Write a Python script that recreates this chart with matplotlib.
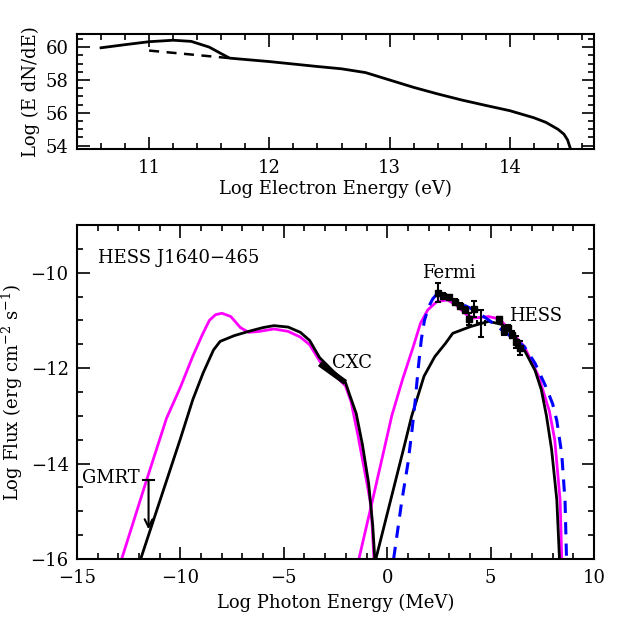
import numpy as np
import matplotlib
matplotlib.use("Agg")
import matplotlib.pyplot as plt
from matplotlib.ticker import MultipleLocator

plt.rcParams['font.family'] = ['DejaVu Serif']
plt.rcParams['mathtext.fontset'] = 'dejavuserif'
plt.rcParams['font.size'] = 13

# --- electron spectrum (top panel) ---
e_x = [10.6, 10.8, 11.0, 11.2, 11.35, 11.5, 11.6, 11.67, 12.0, 12.2, 12.4, 12.6, 12.8,
       13.0, 13.2, 13.4, 13.6, 13.8, 14.0, 14.2, 14.3, 14.4, 14.45, 14.48, 14.5]
e_y = [59.96, 60.15, 60.33, 60.42, 60.35, 60.0, 59.6, 59.33, 59.12, 58.97, 58.82, 58.68, 58.45,
       58.0, 57.55, 57.15, 56.78, 56.45, 56.13, 55.7, 55.42, 55.0, 54.7, 54.35, 53.9]
e_dash_x = [11.0, 11.67]
e_dash_y = [59.79, 59.33]

# --- photon SED (bottom panel) ---
sync_blk_x = [-11.92, -11.54, -10.8, -10.0, -9.4, -8.9, -8.4, -8.08, -7.4, -6.7, -6.0,
              -5.48, -4.79, -4.2, -3.75, -3.27, -2.6, -2.02, -1.8, -1.5, -1.2, -0.9, -0.7, -0.6]
sync_blk_y = [-16.0, -15.5, -14.53, -13.48, -12.66, -12.1, -11.62, -11.44, -11.32, -11.23, -11.15,
              -11.11, -11.14, -11.25, -11.42, -11.78, -12.07, -12.3, -12.58, -12.95, -13.6, -14.41, -15.3, -16.0]

sync_mag_x = [-12.84, -11.63, -10.67, -10.0, -9.4, -8.94, -8.6, -8.3, -7.99, -7.56, -7.1, -6.7, -6.18,
              -5.48, -4.79, -4.2, -3.75, -3.24, -2.6, -2.02, -1.75, -1.42, -0.98, -0.78, -0.64]
sync_mag_y = [-16.0, -14.34, -13.05, -12.4, -11.75, -11.3, -11.0, -10.88, -10.85, -10.92, -11.15, -11.25, -11.23,
              -11.18, -11.23, -11.35, -11.51, -11.87, -12.12, -12.37, -12.7, -13.4, -14.41, -14.9, -16.0]

ic_mag_x = [-1.37, -0.78, -0.2, 0.22, 0.74, 1.26, 1.61, 1.96, 2.39, 2.91, 3.34, 3.86, 4.2,
            4.9, 5.42, 5.93, 6.63, 7.32, 7.84, 8.1, 8.36, 8.44]
ic_mag_y = [-16.0, -14.9, -13.8, -13.0, -12.24, -11.55, -11.06, -10.78, -10.61, -10.57, -10.68, -10.89, -10.95,
            -10.92, -10.97, -11.2, -11.55, -12.17, -12.9, -13.5, -14.76, -16.0]

ic_blk_x = [-0.55, 0.74, 1.18, 1.78, 2.3, 2.82, 3.17, 4.03, 4.9, 5.59, 6.1, 6.63, 7.15,
            7.45, 7.7, 7.95, 8.2, 8.33]
ic_blk_y = [-16.0, -13.78, -13.01, -12.17, -11.76, -11.48, -11.27, -11.13, -11.02, -11.09, -11.3, -11.62, -12.05,
            -12.45, -13.0, -13.71, -14.76, -16.0]

ic_blue_x = [0.31, 0.7, 1.0, 1.2, 1.35, 1.5, 1.65, 1.8, 2.0, 2.2, 2.4, 2.8, 3.51, 4.2, 4.9,
             5.76, 6.63, 7.15, 7.66, 8.0, 8.2, 8.44, 8.6, 8.67]
ic_blue_y = [-16.0, -14.8, -14.0, -13.3, -12.7, -12.0, -11.4, -11.0, -10.72, -10.55, -10.45, -10.5, -10.64, -10.78, -10.99,
             -11.27, -11.55, -11.9, -12.38, -12.75, -13.1, -13.8, -14.8, -16.0]

fermi_x = [2.44, 2.71, 3.0, 3.28, 3.52, 3.76, 3.97, 4.22]
fermi_y = [-10.42, -10.48, -10.52, -10.62, -10.70, -10.78, -10.97, -10.76]
fermi_err = [0.2, 0.05, 0.05, 0.06, 0.07, 0.07, 0.13, 0.16]

cross_x, cross_y, cross_xerr, cross_yerr = 4.55, -11.06, 0.2, 0.28

hess_x = [5.42, 5.65, 5.86, 6.05, 6.25, 6.42]
hess_y = [-10.97, -11.22, -11.15, -11.3, -11.45, -11.58]
hess_err = [0.05, 0.08, 0.05, 0.07, 0.12, 0.15]

cxc_x = [-3.27, -2.02]
cxc_y = [-11.91, -12.3]

gmrt_x, gmrt_y, gmrt_to = -11.54, -14.34, -15.38


def style_axes(ax):
    ax.tick_params(which='both', direction='in', top=True, right=True, width=1.2)
    ax.tick_params(which='major', length=9)
    ax.tick_params(which='minor', length=4.5)
    ax.tick_params(axis='x', pad=7)
    ax.tick_params(axis='y', pad=6)
    for s in ax.spines.values():
        s.set_linewidth(1.5)


fig = plt.figure(figsize=(6.27, 6.27), dpi=100)

# top panel
ax1 = fig.add_axes([0.1228, 0.7624, 0.8246, 0.1834])
ax1.plot(e_x, e_y, color='black', lw=2)
ax1.plot(e_dash_x, e_dash_y, color='black', lw=1.8, ls=(0, (4, 3)))
ax1.set_xlim(10.4, 14.7)
ax1.set_ylim(53.8, 60.8)
ax1.xaxis.set_major_locator(MultipleLocator(1))
ax1.xaxis.set_minor_locator(MultipleLocator(0.2))
ax1.yaxis.set_major_locator(MultipleLocator(2))
ax1.yaxis.set_minor_locator(MultipleLocator(0.5))
ax1.set_xlabel('Log Electron Energy (eV)', labelpad=2)
ax1.set_ylabel('Log (E dN/dE)')
style_axes(ax1)

# bottom panel
ax2 = fig.add_axes([0.1228, 0.1085, 0.8246, 0.5327])
ax2.plot(sync_mag_x, sync_mag_y, color='#ff00ff', lw=2)
ax2.plot(ic_mag_x, ic_mag_y, color='#ff00ff', lw=2)
ax2.plot(sync_blk_x, sync_blk_y, color='black', lw=2)
ax2.plot(ic_blk_x, ic_blk_y, color='black', lw=2)
ax2.plot(ic_blue_x, ic_blue_y, color='#0000ff', lw=2.2, ls=(0, (4, 3)))

ax2.errorbar(fermi_x, fermi_y, yerr=fermi_err, fmt='s', color='black', ms=4,
             elinewidth=1.5, capsize=2.5, capthick=1.5)
ax2.errorbar(hess_x, hess_y, yerr=hess_err, fmt='s', color='black', ms=4,
             elinewidth=1.5, capsize=2.5, capthick=1.5)
ax2.errorbar([cross_x], [cross_y], xerr=[cross_xerr], yerr=[cross_yerr], fmt='none',
             color='black', elinewidth=1.5, capsize=2.5, capthick=1.5)

ax2.plot(cxc_x, cxc_y, color='black', lw=4, solid_capstyle='butt')

# GMRT upper limit
ax2.plot([gmrt_x - 0.25, gmrt_x + 0.25], [gmrt_y, gmrt_y], color='black', lw=1.5)
ax2.annotate('', xy=(gmrt_x, gmrt_to), xytext=(gmrt_x, gmrt_y),
             arrowprops=dict(arrowstyle='->', color='black', lw=1.5,
                             mutation_scale=14, shrinkA=0, shrinkB=0))

ax2.text(-14.0, -9.7, 'HESS J1640\u2212465', ha='left', va='center')
ax2.text(3.0, -10.0, 'Fermi', ha='center', va='center')
ax2.text(5.9, -10.9, 'HESS', ha='left', va='center')
ax2.text(-2.68, -11.9, 'CXC', ha='left', va='center')
ax2.text(-11.97, -14.3, 'GMRT', ha='right', va='center')

ax2.set_xlim(-15, 10)
ax2.set_ylim(-16, -9)
ax2.xaxis.set_major_locator(MultipleLocator(5))
ax2.xaxis.set_minor_locator(MultipleLocator(1))
ax2.yaxis.set_major_locator(MultipleLocator(2))
ax2.yaxis.set_minor_locator(MultipleLocator(0.5))
ax2.set_xlabel('Log Photon Energy (MeV)', labelpad=5)
ax2.set_ylabel(r'Log Flux (erg cm$^{-2}$ s$^{-1}$)')
style_axes(ax2)

fig.savefig('out.png', dpi=100)
